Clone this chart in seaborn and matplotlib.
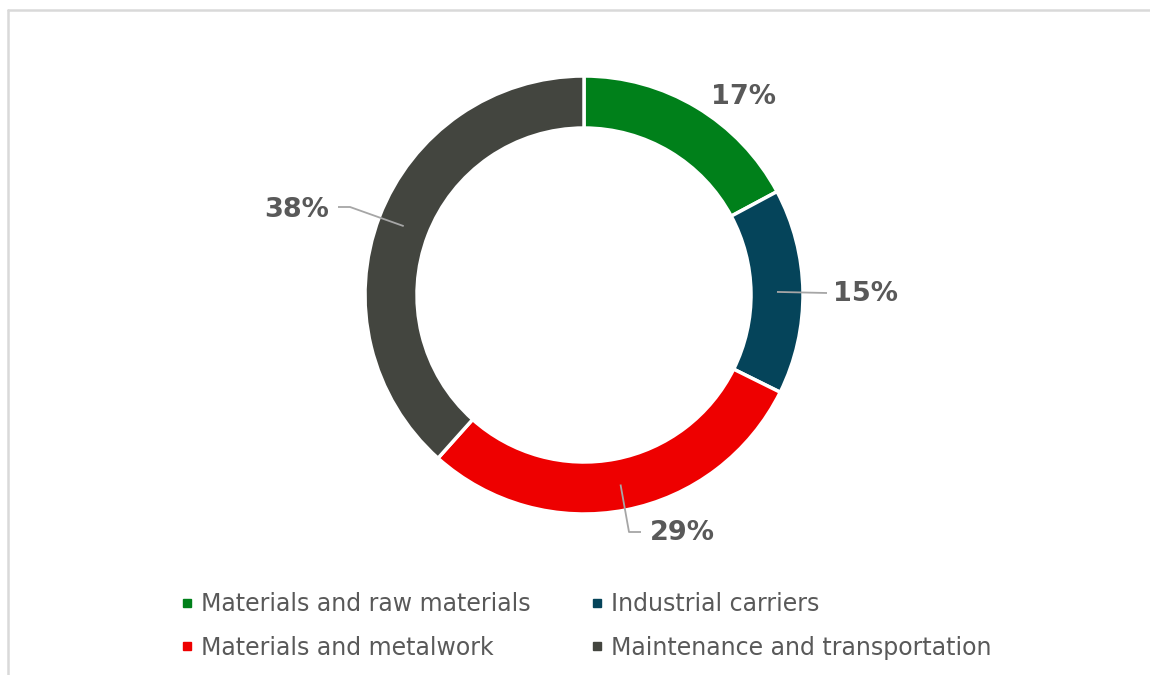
import numpy as np
import matplotlib
matplotlib.use("Agg")
import matplotlib.pyplot as plt
from matplotlib.lines import Line2D
import seaborn as sns

# data
categories = ["Materials and raw materials", "Industrial carriers",
              "Materials and metalwork", "Maintenance and transportation"]
shares = [17, 15, 29, 38]
labels = ["17%", "15%", "29%", "38%"]
colors = ["#00801A", "#05445A", "#EE0000", "#43453F"]

sns.set_theme(style="white")
plt.rcParams['font.family'] = ['DejaVu Sans']

W, H = 1150, 675
fig = plt.figure(figsize=(W / 100, H / 100), dpi=100)
ax = fig.add_axes([0, 0, 1, 1])

cx, cy, r_out, r_in = 584, H - 295, 219, 167
wedges, _ = ax.pie(shares, colors=colors, startangle=90, counterclock=False,
                   center=(cx, cy), radius=r_out,
                   wedgeprops=dict(width=r_out - r_in, edgecolor="white", linewidth=2.5))
ax.set_xlim(0, W)
ax.set_ylim(0, H)
ax.set_aspect("equal")
ax.axis("off")

# label positions (pixel coords of text centre) and leader line elbows
label_pos = [(744, 97), (866, 294), (682, 533), (297, 210)]
elbows = [None, (827, 293), (629, 532), (350, 207)]
ends = [None, None, (641, 532), (338, 207)]
r_mid = (r_out + r_in) / 2
for w, lab, (px, py), elb, end in zip(wedges, labels, label_pos, elbows, ends):
    if elb is not None:
        ang = np.deg2rad((w.theta1 + w.theta2) / 2)
        sx, sy = cx + r_mid * np.cos(ang), cy + r_mid * np.sin(ang)
        xs = [sx, elb[0]]
        ys = [sy, H - elb[1]]
        if end is not None:
            xs.append(end[0])
            ys.append(H - end[1])
        ax.plot(xs, ys, color="#A6A6A6", lw=1.3, solid_capstyle="butt")
    ax.text(px, H - py, lab, ha="center", va="center", fontsize=19.5,
            fontweight="bold", color="#595959")

# legend: column-wise fill -> order green, red, teal, gray
order = [0, 2, 1, 3]
handles = [Line2D([], [], ls="none", marker="s", markersize=6,
                  markerfacecolor=colors[i], markeredgecolor=colors[i]) for i in order]
leg = fig.legend(handles, [categories[i] for i in order], ncol=2,
                 loc="upper left", bbox_to_anchor=(0.148, 0.140), frameon=False,
                 fontsize=17, handlelength=0.4, handletextpad=0.4,
                 columnspacing=2.6, labelspacing=0.815, borderpad=0)
for t in leg.get_texts():
    t.set_color("#595959")

# light frame at top and left
fig.add_artist(Line2D([8 / W, 1], [1 - 10 / H, 1 - 10 / H], color="#D9D9D9", lw=1.8,
                      transform=fig.transFigure))
fig.add_artist(Line2D([8 / W, 8 / W], [0, 1 - 10 / H], color="#D9D9D9", lw=1.8,
                      transform=fig.transFigure))

fig.savefig("out.png", dpi=100)
